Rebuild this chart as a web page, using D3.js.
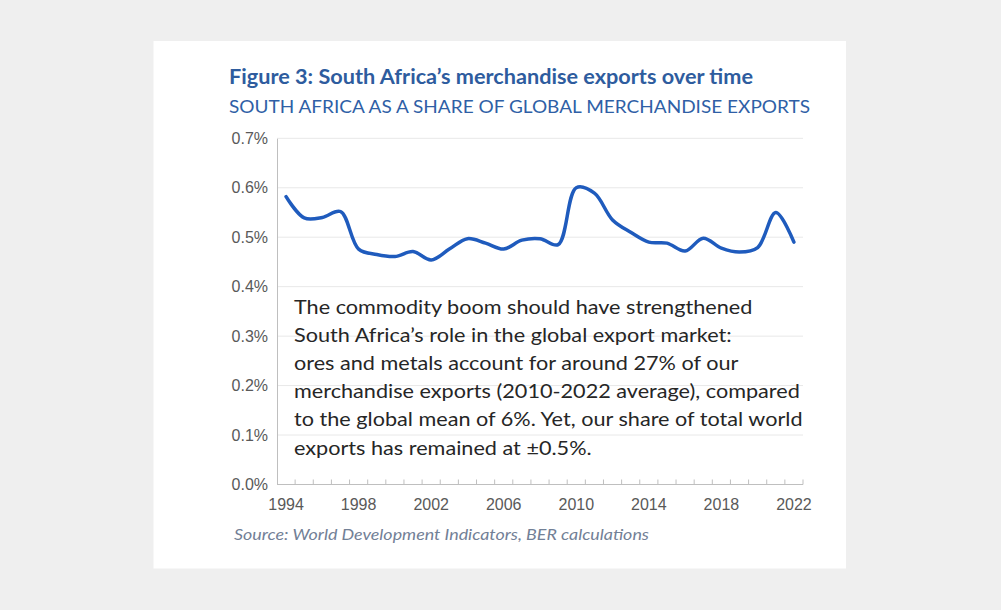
<!DOCTYPE html>
<html>
<head>
<meta charset="utf-8">
<script src="https://cdn.jsdelivr.net/npm/d3@7"></script>
<style>
  body { margin: 0; background: #efefef; }
  svg { display: block; }
</style>
</head>
<body>
<svg class="chart" width="1001" height="610"></svg>
<script>
// DATA (share of global merchandise exports, %)
const years = d3.range(1994, 2023);
const shares = [
  0.582, 0.539, 0.540, 0.552, 0.476, 0.465, 0.461, 0.471, 0.454, 0.476,
  0.497, 0.488, 0.476, 0.494, 0.497, 0.485, 0.600, 0.589, 0.535, 0.510,
  0.490, 0.488, 0.472, 0.498, 0.478, 0.470, 0.479, 0.550, 0.490
];
const yTicks = [0, 0.1, 0.2, 0.3, 0.4, 0.5, 0.6, 0.7];
const xLabelYears = [1994, 1998, 2002, 2006, 2010, 2014, 2018, 2022];

const titleText = "Figure 3: South Africa\u2019s merchandise exports over time";
const subtitleText = "SOUTH AFRICA AS A SHARE OF GLOBAL MERCHANDISE EXPORTS";
const sourceText = "Source: World Development Indicators, BER calculations";
const noteLines = [
  "The commodity boom should have strengthened",
  "South Africa\u2019s role in the global export market:",
  "ores and metals account for around 27% of our",
  "merchandise exports (2010-2022 average), compared",
  "to the global mean of 6%. Yet, our share of total world",
  "exports has remained at \u00b10.5%."
];

const data = years.map((y, i) => ({ year: y, value: shares[i] }));

const svg = d3.select("svg.chart");

// white card
svg.append("rect")
  .attr("x", 153.5).attr("y", 41)
  .attr("width", 692.5).attr("height", 527.5)
  .attr("fill", "white");

// squeeze a text to a given width (Calibri is narrower than what we have)
function fitWidth(sel, w) {
  sel.attr("textLength", w).attr("lengthAdjust", "spacingAndGlyphs");
}

// titles
svg.append("text")
  .attr("x", 229).attr("y", 84)
  .attr("fill", "#2e5c9e")
  .style("font-family", "Lato, 'Open Sans', sans-serif")
  .style("font-weight", "bold")
  .style("font-size", "20px")
  .text(titleText)
  .call(fitWidth, 524);

svg.append("text")
  .attr("x", 229).attr("y", 113)
  .attr("fill", "#2f5fa6")
  .style("font-family", "Lato, 'Open Sans', sans-serif")
  .style("font-size", "17px")
  .text(subtitleText)
  .call(fitWidth, 581);

// scales
const plot = { left: 277, right: 803, top: 138.3, bottom: 484.5 };

const x = d3.scaleBand()
  .domain(years)
  .range([plot.left, plot.right])
  .paddingInner(0).paddingOuter(0);

const y = d3.scaleLinear()
  .domain([0, 0.7])
  .range([plot.bottom, plot.top]);

// gridlines
svg.append("g")
  .selectAll("line")
  .data(yTicks.slice(1))
  .join("line")
  .attr("x1", plot.left).attr("x2", plot.right)
  .attr("y1", d => y(d)).attr("y2", d => y(d))
  .attr("stroke", "#e8e8e8")
  .attr("stroke-width", 1);

// y axis
const yAxis = svg.append("g")
  .attr("transform", `translate(${plot.left},0)`)
  .call(d3.axisLeft(y).tickValues(yTicks).tickSize(0).tickPadding(9)
    .tickFormat(d => d.toFixed(1) + "%"));
yAxis.select(".domain").attr("stroke", "#bfbfbf");
yAxis.selectAll("text")
  .attr("fill", "#595959")
  .style("font-family", "'Liberation Sans', Arial, sans-serif")
  .style("font-size", "16px");

// x axis: labels at category centres, tick marks between categories
const xAxis = svg.append("g")
  .attr("transform", `translate(0,${plot.bottom})`)
  .call(d3.axisBottom(x).tickValues(xLabelYears).tickSize(0).tickPadding(14));
xAxis.select(".domain").remove();
xAxis.selectAll("text")
  .attr("fill", "#595959")
  .style("font-family", "'Liberation Sans', Arial, sans-serif")
  .style("font-size", "16px");

svg.append("line")
  .attr("x1", plot.left).attr("x2", plot.right)
  .attr("y1", plot.bottom).attr("y2", plot.bottom)
  .attr("stroke", "#bfbfbf");

const boundaries = years.slice(1).map(d => x(d)).concat([plot.right]);
svg.append("g")
  .selectAll("line")
  .data(boundaries)
  .join("line")
  .attr("x1", d => d).attr("x2", d => d)
  .attr("y1", plot.bottom).attr("y2", plot.bottom - 5)
  .attr("stroke", "#bfbfbf");

// the series
const line = d3.line()
  .x(d => x(d.year) + x.bandwidth() / 2)
  .y(d => y(d.value))
  .curve(d3.curveCatmullRom.alpha(0.5));

svg.append("path")
  .datum(data)
  .attr("d", line)
  .attr("fill", "none")
  .attr("stroke", "#1f5bbd")
  .attr("stroke-width", 3.5)
  .attr("stroke-linejoin", "round")
  .attr("stroke-linecap", "round");

// annotation
const note = svg.append("g");
const noteText = note.selectAll("text")
  .data(noteLines)
  .join("text")
  .attr("x", 294)
  .attr("y", (d, i) => 313.5 + i * 28.2)
  .attr("fill", "#262626")
  .style("font-family", "Lato, 'Open Sans', sans-serif")
  .style("font-size", "19px")
  .text(d => d);

// one common horizontal squeeze so the widest line spans like the original
const widest = d3.max(noteText.nodes(), n => n.getComputedTextLength());
const squeeze = 508.5 / widest;
noteText.each(function () {
  const w = this.getComputedTextLength();
  d3.select(this).call(fitWidth, w * squeeze);
});

// source
svg.append("text")
  .attr("x", 234).attr("y", 540)
  .attr("fill", "#728096")
  .style("font-family", "Lato, 'Open Sans', sans-serif")
  .style("font-style", "italic")
  .style("font-size", "15px")
  .text(sourceText)
  .call(fitWidth, 415);
</script>
</body>
</html>
